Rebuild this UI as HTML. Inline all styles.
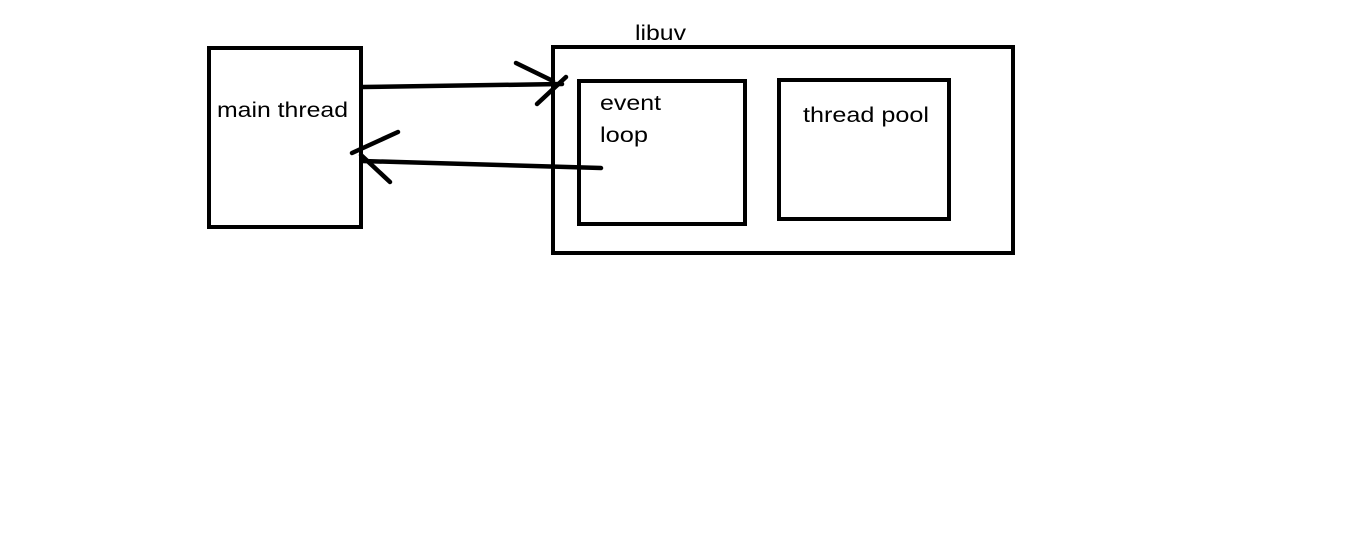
<!DOCTYPE html>
<html><head><style>html,body{margin:0;padding:0;background:#fff;width:1360px;height:551px;overflow:hidden}</style></head>
<body>
<svg width="1360" height="551" xmlns="http://www.w3.org/2000/svg" style="display:block">
<g fill="none" stroke="#000" stroke-width="4">
<rect x="209" y="48" width="152" height="179"/>
<rect x="553" y="47" width="460" height="206"/>
<rect x="579" y="81" width="166" height="143"/>
<rect x="779" y="80" width="170" height="139"/>
<g stroke-linecap="round" stroke-width="4.5">
<path d="M363 87 L562 84"/>
<path d="M516 63 L553 81"/>
<path d="M537 104 L566 77"/>
<path d="M601 168 L362 161"/>
<path d="M352 153 L398 132"/>
<path d="M361 155 L390 182"/>
</g>
</g>
<g font-family="'Liberation Sans', 'DejaVu Sans', sans-serif" font-size="21" fill="#000">
<text x="217" y="117" textLength="131" lengthAdjust="spacingAndGlyphs">main thread</text>
<text x="635" y="40" textLength="51" lengthAdjust="spacingAndGlyphs">libuv</text>
<text x="600" y="110" textLength="61" lengthAdjust="spacingAndGlyphs">event</text>
<text x="600" y="142" textLength="48" lengthAdjust="spacingAndGlyphs">loop</text>
<text x="803" y="122" textLength="126" lengthAdjust="spacingAndGlyphs">thread pool</text>
</g>
</svg>
</body></html>
